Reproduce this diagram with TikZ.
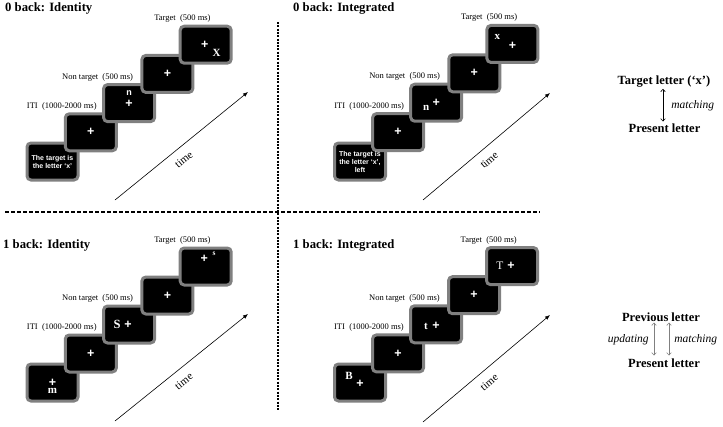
\documentclass[tikz,border=0pt]{standalone}
\usepackage{fontspec}
\setmainfont{Liberation Serif}
\setsansfont{Liberation Sans}
\usetikzlibrary{calc,arrows.meta,positioning}

\begin{document}
\begin{tikzpicture} [x=1pt, y=-1pt,
    screen/.style={draw=gray, fill=black, line width=3pt, rounded corners=4pt, minimum width=51pt, minimum height=37pt, inner sep=0pt, text=white, align=center, font=\sffamily\bfseries\fontsize{7}{8}\selectfont},
    cross/.style={text=white, inner sep=0pt, font=\sffamily\bfseries\fontsize{12.5}{12}\selectfont},
    letter/.style={text=white, inner sep=0pt, font=\bfseries\fontsize{11}{11}\selectfont},
    phase/.style={inner sep=0pt, anchor=base east, font=\fontsize{8.5}{9}\selectfont},
    heading/.style={inner sep=0pt, anchor=west, font=\bfseries\fontsize{12.7}{13}\selectfont},
    timeline/.style={line width=0.6pt, -{Latex[length=5pt,width=4pt]}},
    timelabel/.style={sloped, below=8pt, pos=0.46, inner sep=0pt, font=\fontsize{11}{11}\selectfont},
    legend/.style={inner sep=0pt, font=\bfseries\fontsize{12.5}{13}\selectfont},
    relation/.style={inner sep=0pt, font=\itshape\fontsize{11.5}{12}\selectfont},
    link/.style={{To[length=3pt,width=5pt]}-{To[length=3pt,width=5pt]}, line width=0.6pt}
  ]

\useasboundingbox (0,0) rectangle (723,426);

% dividers
\draw[line width=2pt, dash pattern=on 2pt off 1.3pt] (278,22) -- (278,410);
\draw[line width=1.5pt, dash pattern=on 4pt off 2pt] (5,212) -- (540,212);

% titles
\node[heading] (title1) at (5,8) {0 back: Identity};
\node[heading] (title2) at (293,8) {0 back: Integrated};
\node[heading] (title3) at (3,245) {1 back: Identity};
\node[heading] (title4) at (293,245) {1 back: Integrated};

% 0 back: Identity
\foreach \i in {1,...,5}
  \node[screen] (a\i) at ({52.5+38.3*(\i-1)},{161.5-29.2*(\i-1)}) {};
\node[screen, draw=none, fill=none, minimum width=0pt, minimum height=0pt] (a1t) at (a1) {The target is\\the letter ‘x’};
\node[cross] (a2c) at (a2) {+};
\node[cross, font=\sffamily\bfseries\fontsize{9}{9}\selectfont] (a3n) at ([shift={(0,-10)}]a3.center) {n};
\node[cross] (a3c) at ([shift={(0,1)}]a3.center) {+};
\node[cross] (a4c) at (a4) {+};
\node[cross] (a5c) at ([shift={(-1,0)}]a5.center) {+};
\node[letter] (a5x) at ([shift={(11,8)}]a5.center) {X};

\node[phase] (a5l) at ([shift={(5,-4)}]a5.north) {Target\ \ (500 ms)};
\node[phase] (a3l) at ([shift={(4,-4)}]a3.north) {Non target\ \ (500 ms)};
\node[phase] (a2l) at ([shift={(6,-4)}]a2.north) {ITI\ \ (1000-2000 ms)};

\coordinate (as) at (115,200);
\coordinate (ae) at (248,92);
\draw[timeline] (as) -- node[timelabel] (atime) {time} (ae);

% 0 back: Integrated
\foreach \i in {1,...,5}
  \node[screen] (b\i) at ({360+38.1*(\i-1)},{161.5-29.4*(\i-1)}) {};
\node[screen, draw=none, fill=none, minimum width=0pt, minimum height=0pt] (b1t) at (b1) {The target is\\the letter ‘x’,\\left};
\node[cross] (b2c) at (b2) {+};
\node[letter] (b3n) at ([shift={(-10,5)}]b3.center) {n};
\node[cross] (b3c) at (b3) {+};
\node[cross] (b4c) at (b4) {+};
\node[letter] (b5x) at ([shift={(-15,-7)}]b5.center) {x};
\node[cross] (b5c) at ([shift={(0,1.5)}]b5.center) {+};

\node[phase] (b5l) at ([shift={(5,-4)}]b5.north) {Target\ \ (500 ms)};
\node[phase] (b3l) at ([shift={(4,-4)}]b3.north) {Non target\ \ (500 ms)};
\node[phase] (b2l) at ([shift={(6,-4)}]b2.north) {ITI\ \ (1000-2000 ms)};

\coordinate (bs) at (423,200);
\coordinate (be) at (550,93);
\draw[timeline] (bs) -- node[timelabel] (btime) {time} (be);

% 1 back: Identity
\foreach \i in {1,...,5}
  \node[screen] (c\i) at ({52.5+38.3*(\i-1)},{382.5-29*(\i-1)}) {};
\node[cross] (c1c) at (c1) {+};
\node[letter] (c1m) at ([shift={(0,8)}]c1.center) {m};
\node[cross] (c2c) at (c2) {+};
\node[letter, font=\bfseries\fontsize{12.5}{12}\selectfont] (c3s) at ([shift={(-12,0)}]c3.center) {S};
\node[cross] (c3c) at ([shift={(-1,0)}]c3.center) {+};
\node[cross] (c4c) at (c4) {+};
\node[cross] (c5c) at ([shift={(-1.5,-8)}]c5.center) {+};
\node[letter, font=\bfseries\fontsize{7.5}{8}\selectfont] (c5s) at ([shift={(8.5,-13)}]c5.center) {s};

\node[phase] (c5l) at ([shift={(5,-4)}]c5.north) {Target\ \ (500 ms)};
\node[phase] (c3l) at ([shift={(4,-4)}]c3.north) {Non target\ \ (500 ms)};
\node[phase] (c2l) at ([shift={(6,-4)}]c2.north) {ITI\ \ (1000-2000 ms)};

\coordinate (cs) at (115,421);
\coordinate (ce) at (248,314);
\draw[timeline] (cs) -- node[timelabel] (ctime) {time} (ce);

% 1 back: Integrated
\foreach \i in {1,...,5}
  \node[screen] (d\i) at ({360+38*(\i-1)},{382.5-29.1*(\i-1)}) {};
\node[letter] (d1b) at ([shift={(-11,-7)}]d1.center) {B};
\node[cross] (d1c) at ([shift={(0,1)}]d1.center) {+};
\node[cross] (d2c) at (d2) {+};
\node[letter] (d3t) at ([shift={(-10,2)}]d3.center) {t};
\node[cross] (d3c) at ([shift={(0,2)}]d3.center) {+};
\node[cross] (d4c) at (d4) {+};
\node[letter, font=\fontsize{11.5}{11}\selectfont] (d5t) at ([shift={(-12,0)}]d5.center) {T};
\node[cross] (d5c) at ([shift={(-1,0)}]d5.center) {+};

\node[phase] (d5l) at ([shift={(5,-4)}]d5.north) {Target\ \ (500 ms)};
\node[phase] (d3l) at ([shift={(4,-4)}]d3.north) {Non target\ \ (500 ms)};
\node[phase] (d2l) at ([shift={(6,-4)}]d2.north) {ITI\ \ (1000-2000 ms)};

\coordinate (ds) at (423,422);
\coordinate (de) at (550,315);
\draw[timeline] (ds) -- node[timelabel] (dtime) {time} (de);

% legend 0 back
\node[legend] (target) at (664,82) {Target letter (‘x’)};
\node[legend] (present1) at (664.5,128) {Present letter};
\draw[link, shorten >=2pt, shorten <=1pt] (target.south -| 663,0) -- node[relation, right=8pt] (match1) {matching} (present1.north -| 663,0);

% legend 1 back
\node[legend] (previous) at (661,317) {Previous letter};
\node[legend] (present2) at (664,363) {Present letter};
\draw[link, gray, shorten <=1pt, shorten >=3pt] ([xshift=-7pt]previous.south) -- node[relation, black, left=5pt] (update) {updating} ([xshift=-10pt]present2.north);
\draw[link, gray, shorten <=1pt, shorten >=3pt] ([xshift=8pt]previous.south) -- node[relation, black, right=5pt] (match2) {matching} ([xshift=5pt]present2.north);

\end{tikzpicture}
\end{document}
